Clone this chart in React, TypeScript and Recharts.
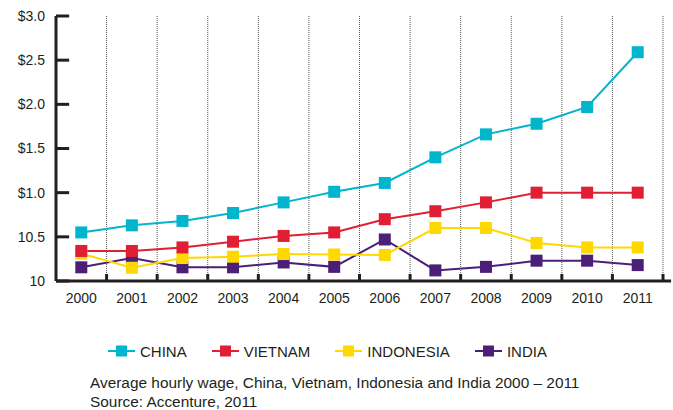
import React from 'react';
import { LineChart, Line, XAxis, YAxis, ReferenceLine } from 'recharts';

const years = [2000, 2001, 2002, 2003, 2004, 2005, 2006, 2007, 2008, 2009, 2010, 2011];
const china = [0.55, 0.63, 0.68, 0.77, 0.89, 1.01, 1.11, 1.4, 1.66, 1.78, 1.97, 2.59];
const vietnam = [0.34, 0.34, 0.38, 0.445, 0.51, 0.55, 0.7, 0.79, 0.89, 1.0, 1.0, 1.0];
const indonesia = [0.31, 0.15, 0.26, 0.275, 0.305, 0.3, 0.295, 0.6, 0.6, 0.43, 0.38, 0.38];
const india = [0.155, 0.26, 0.155, 0.155, 0.21, 0.16, 0.47, 0.12, 0.16, 0.23, 0.23, 0.18];

const yTickValues = [0, 0.5, 1, 1.5, 2, 2.5, 3];
const yTickLabels = ['10', '10.5', '$1.0', '$1.5', '$2.0', '$2.5', '$3.0'];

// legend order
const series = [
  { key: 'china', name: 'CHINA', color: '#00b5cc' },
  { key: 'vietnam', name: 'VIETNAM', color: '#e01f35' },
  { key: 'indonesia', name: 'INDONESIA', color: '#ffd800' },
  { key: 'india', name: 'INDIA', color: '#4b1f78' },
];
// draw order (later ones on top)
const drawOrder = ['india', 'indonesia', 'vietnam', 'china'];

const data = years.map((year, i) => ({
  year,
  china: china[i],
  vietnam: vietnam[i],
  indonesia: indonesia[i],
  india: india[i],
}));

const boundaries = years.map((y) => y + 0.5);

const FONT = '"Liberation Sans", Arial, sans-serif';
const INK = '#231f20';

const squareDot = (color: string) => (props: any) => {
  const { cx, cy, index } = props;
  if (cx == null || cy == null) return <g key={index} />;
  return <rect key={index} x={cx - 6} y={cy - 6} width={12} height={12} fill={color} />;
};

const LegendBlock = () => (
  <div
    style={{
      position: 'absolute',
      left: 108,
      top: 342,
      height: 18,
      display: 'flex',
      alignItems: 'center',
      fontFamily: FONT,
      fontSize: 15,
      color: INK,
    }}
  >
    {series.map((s) => (
      <div key={s.key} style={{ display: 'flex', alignItems: 'center', marginRight: 25 }}>
        <svg width={27} height={12} style={{ marginRight: 5 }}>
          <line x1={0} y1={6} x2={27} y2={6} stroke={s.color} strokeWidth={2} />
          <rect x={8} y={0.5} width={11} height={11} fill={s.color} />
        </svg>
        <span>{s.name}</span>
      </div>
    ))}
  </div>
);

export default function App() {
  const colorOf = (k: string) => series.find((s) => s.key === k)!.color;
  const nameOf = (k: string) => series.find((s) => s.key === k)!.name;
  return (
    <div style={{ position: 'absolute', top: 0, left: 0, width: 673, height: 410, background: '#fff' }}>
      <LineChart
        width={673}
        height={410}
        data={data}
        margin={{ top: 16, right: 10, bottom: 100, left: 0 }}
      >
        <XAxis
          dataKey="year"
          type="number"
          domain={[1999.5, 2011.5]}
          ticks={years}
          interval={0}
          axisLine={false}
          tickLine={false}
          tickMargin={6}
          height={29}
          tick={{ fill: INK, fontSize: 14, fontFamily: FONT }}
        />
        <YAxis
          type="number"
          domain={[0, 3]}
          ticks={yTickValues}
          interval={0}
          width={56}
          axisLine={{ stroke: INK, strokeWidth: 3 }}
          tickLine={false}
          tickMargin={5}
          tickFormatter={(v: number) => yTickLabels[yTickValues.indexOf(v)]}
          tick={{ fill: INK, fontSize: 14, fontFamily: FONT }}
        />
        {boundaries.map((b) => (
          <ReferenceLine key={'g' + b} x={b} stroke="#555" strokeDasharray="1 1" strokeWidth={1} />
        ))}
        {boundaries.map((b) => (
          <ReferenceLine
            key={'t' + b}
            segment={[{ x: b, y: 0 }, { x: b, y: 0.08 }]}
            stroke={INK}
            strokeWidth={3}
          />
        ))}
        {yTickValues.map((v) => (
          <ReferenceLine
            key={'y' + v}
            segment={[{ x: 1999.5, y: v }, { x: 1999.76, y: v }]}
            stroke={INK}
            strokeWidth={3}
          />
        ))}
        <ReferenceLine
          segment={[{ x: 1999.5, y: 0 }, { x: 2011.66, y: 0 }]}
          stroke={INK}
          strokeWidth={3}
          ifOverflow="visible"
        />
        {drawOrder.map((k) => (
          <Line
            key={k}
            dataKey={k}
            name={nameOf(k)}
            stroke={colorOf(k)}
            strokeWidth={2}
            dot={squareDot(colorOf(k))}
            activeDot={false}
            isAnimationActive={false}
          />
        ))}
      </LineChart>
      <LegendBlock />
      <div
        style={{
          position: 'absolute',
          left: 90,
          top: 373,
          fontFamily: FONT,
          fontSize: 15.4,
          lineHeight: '19px',
          color: INK,
        }}
      >
        <div>Average hourly wage, China, Vietnam, Indonesia and India 2000 – 2011</div>
        <div>Source: Accenture, 2011</div>
      </div>
    </div>
  );
}
